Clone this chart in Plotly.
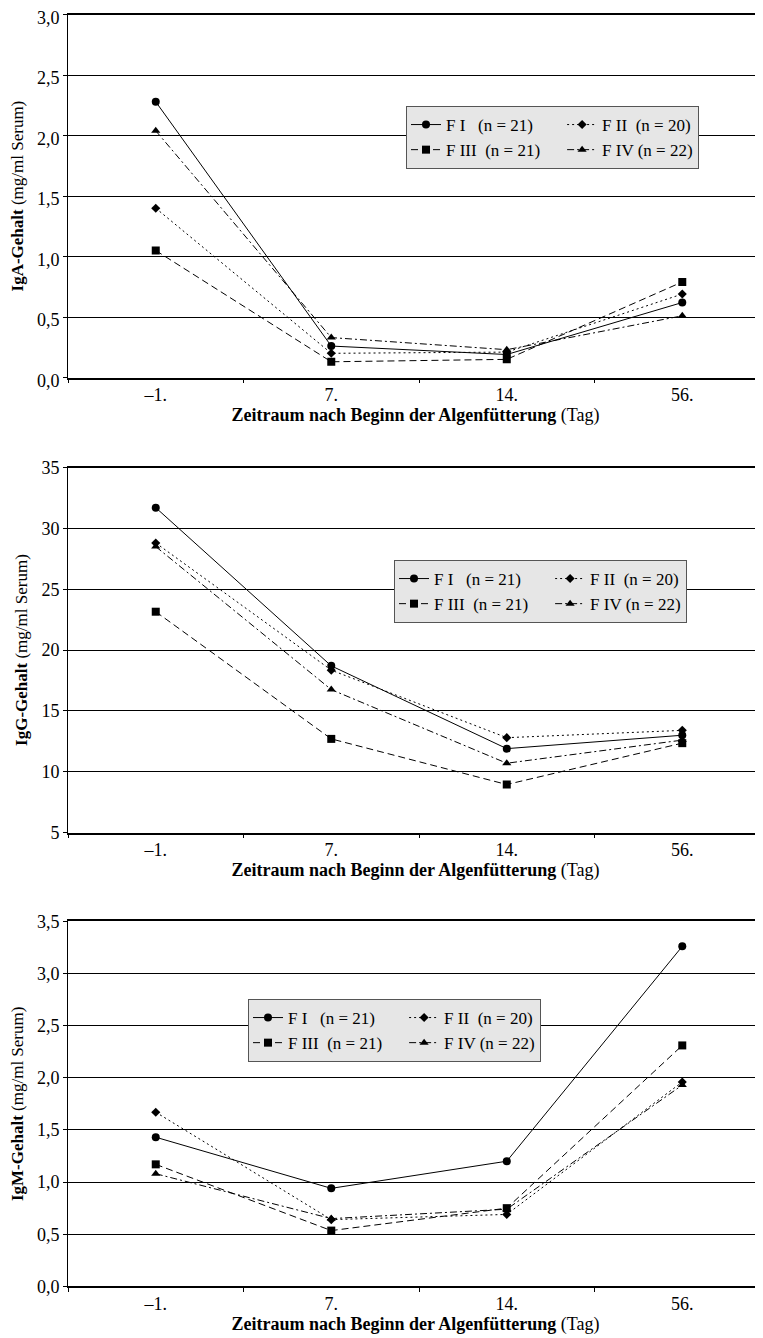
import plotly.graph_objects as go

# ---- data ----
days = ["–1.", "7.", "14.", "56."]
group_names = ["F I\u00a0\u00a0 (n = 21)", "F II\u00a0 (n = 20)", "F III\u00a0 (n = 21)", "F IV (n = 22)"]

iga_f1 = [2.28, 0.26, 0.19, 0.62]
iga_f2 = [1.40, 0.20, 0.21, 0.69]
iga_f3 = [1.05, 0.13, 0.15, 0.79]
iga_f4 = [2.04, 0.33, 0.23, 0.51]

igg_f1 = [31.7, 18.7, 11.9, 13.0]
igg_f2 = [28.8, 18.35, 12.8, 13.4]
igg_f3 = [23.15, 12.7, 8.95, 12.35]
igg_f4 = [28.5, 16.75, 10.7, 12.6]

igm_f1 = [1.43, 0.94, 1.20, 3.26]
igm_f2 = [1.67, 0.64, 0.69, 1.96]
igm_f3 = [1.17, 0.535, 0.75, 2.31]
igm_f4 = [1.08, 0.65, 0.74, 1.93]

panels = [
    ("IgA", [iga_f1, iga_f2, iga_f3, iga_f4]),
    ("IgG", [igg_f1, igg_f2, igg_f3, igg_f4]),
    ("IgM", [igm_f1, igm_f2, igm_f3, igm_f4]),
]

# ---- styling ----
# the page body has an 8px default margin, so the figure is placed at (8, 8)
OFF = 8
W, H = 763 - OFF, 1338 - OFF
FONT = "Liberation Serif, Times New Roman, DejaVu Serif, serif"
NB = "\u00a0"
dashes = ["solid", "2px,3px", "7px,4px", "7px,3px,2px,3px"]
symbols = ["circle", "diamond", "square", "triangle-up"]
msizes = [8, 7, 8, 8]
col_group = ["a", "b", "a", "b"]
# trailing padding (legend column spacing) per panel
pad_left = [4, 4, 4]

# pixel geometry (top, bottom) of each plot area, in page coordinates
ypix = [(14.7, 377.5), (467.5, 832.6), (921.3, 1286.4)]
yranges = [[0, 3.0], [5, 35], [0, 3.5]]
ydtick = [0.5, 5, 0.5]
yfmt = [".1f", "d", ".1f"]
ylabshift = [3, 0, 0]
legend_pos = [(406, 106), (394, 560), (248, 999)]
x_left = 68

fig = go.Figure()
for p, (ig, series) in enumerate(panels):
    xa = "x" if p == 0 else f"x{p+1}"
    ya = "y" if p == 0 else f"y{p+1}"
    lg = "legend" if p == 0 else f"legend{p+1}"
    for i, vals in enumerate(series):
        pad = NB * (pad_left[p] if col_group[i] == "a" else 0)
        fig.add_trace(go.Scatter(
            x=days, y=vals, name=group_names[i] + pad, mode="lines+markers",
            xaxis=xa, yaxis=ya, legend=lg,
            legendgroup=f"{col_group[i]}{p}",
            line=dict(color="black", width=1, dash=dashes[i]),
            marker=dict(symbol=symbols[i], size=msizes[i], color="black"),
        ))

layout = dict(
    width=W, height=H,
    margin=dict(l=0, r=0, t=0, b=0, autoexpand=False),
    paper_bgcolor="white", plot_bgcolor="white",
    separators=",.", font=dict(family=FONT, size=17, color="black"),
)

for p, (ig, _) in enumerate(panels):
    sfx = "" if p == 0 else str(p + 1)
    top, bot = ypix[p][0] - OFF, ypix[p][1] - OFF
    layout[f"xaxis{sfx}"] = dict(
        type="category", domain=[(x_left - OFF) / W, 1], anchor=f"y{sfx}",
        range=[-0.5, 3.46], tickson="boundaries", ticks="outside", ticklen=4,
        tickcolor="black", showline=True, mirror=True, linecolor="black", linewidth=1.5,
        showgrid=False, tickfont=dict(family=FONT, size=18), automargin=False,
        title=dict(text="<b>Zeitraum nach Beginn der Algenfütterung</b> (Tag)",
                   font=dict(family=FONT, size=18), standoff=1),
    )
    layout[f"yaxis{sfx}"] = dict(
        domain=[1 - bot / H, 1 - top / H], anchor=f"x{sfx}",
        range=yranges[p], dtick=ydtick[p], tick0=yranges[p][0], tickformat=yfmt[p],
        ticks="outside", ticklen=4, tickcolor="black", automargin=False,
        ticklabeloverflow="allow", ticklabelshift=ylabshift[p],
        showline=True, linecolor="black", linewidth=1,
        showgrid=True, gridcolor="black", gridwidth=1, zeroline=False,
        tickfont=dict(family=FONT, size=18),
        title=dict(text=f"<b>{ig}-Gehalt</b> <span style='font-size:17px'>(mg/ml Serum)</span>",
                   font=dict(family=FONT, size=17), standoff=9),
    )
    lx, ly = legend_pos[p]
    layout["legend" if p == 0 else f"legend{p+1}"] = dict(
        x=(lx - OFF) / W, y=1 - (ly - OFF) / H, xanchor="left", yanchor="top",
        orientation="h", traceorder="grouped",
        bgcolor="#e6e6e6", bordercolor="#555555", borderwidth=1,
        font=dict(family=FONT, size=17), itemwidth=30,
    )

fig.update_layout(**layout)
fig.write_html("out.html")
